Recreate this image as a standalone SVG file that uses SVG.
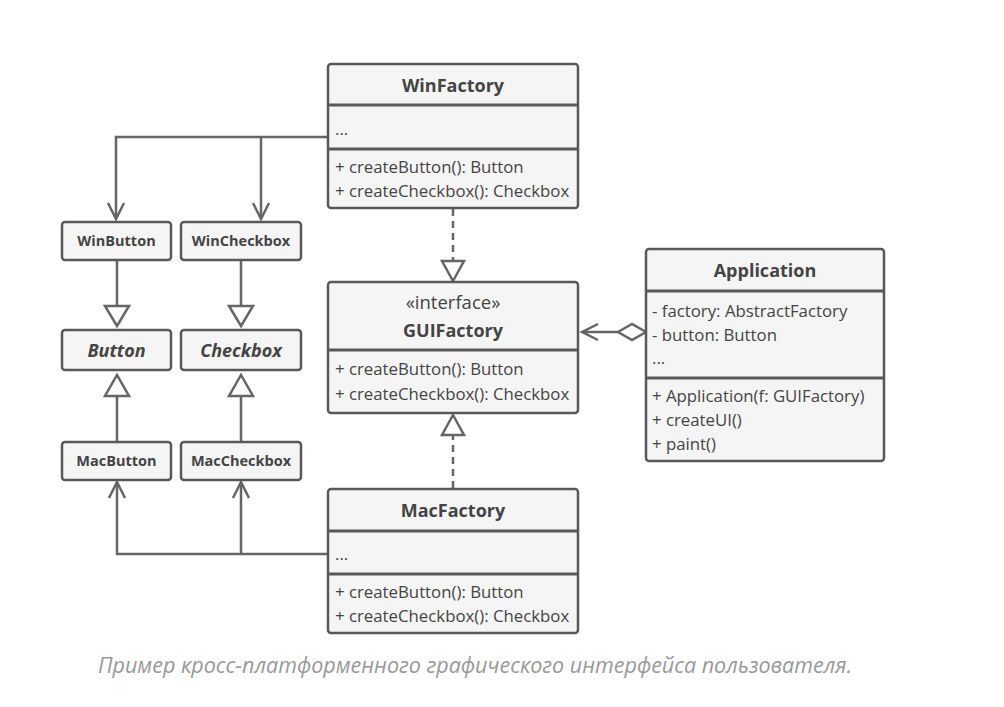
<svg xmlns="http://www.w3.org/2000/svg" width="1004" height="707" viewBox="0 0 1004 707">
<defs>
<style>
.box{fill:#f5f5f5;stroke:#595959;stroke-width:2.5}
.sep{stroke:#595959;stroke-width:3}
.ln{fill:none;stroke:#666;stroke-width:2.5}
.dash{fill:none;stroke:#666;stroke-width:2.5;stroke-dasharray:7,5}
.tri{fill:#fff;stroke:#666;stroke-width:2.5}
text{font-family:"Open Sans","Liberation Sans",sans-serif;fill:#444}
.t{font-size:16.8px}
.b{font-size:18px;font-weight:bold;text-anchor:middle}
.sb{font-size:14.5px;font-weight:bold;text-anchor:middle}
.si{font-size:18px;font-weight:bold;font-style:italic;text-anchor:middle}
.c{font-size:18.5px;text-anchor:middle}
.cap{font-size:21.5px;font-style:italic;fill:#999;text-anchor:middle}
</style>
</defs>
<rect width="1004" height="707" fill="#fff"/>
<g id="connectors">
<path class="ln" d="M328,137 H116 V219 M261,137 V219"/>
<path class="ln" d="M108,203 L116,219 L124,203 M253,203 L261,219 L269,203"/>
<path class="ln" d="M117,260 V306 M241,260 V306"/>
<polygon class="tri" points="105,306 129,306 117,326"/>
<polygon class="tri" points="229,306 253,306 241,326"/>
<path class="ln" d="M117,442 V396 M241,442 V396"/>
<polygon class="tri" points="105,396 129,396 117,375"/>
<polygon class="tri" points="229,396 253,396 241,375"/>
<path class="ln" d="M328,554 H117 V482 M241,554 V482"/>
<path class="ln" d="M109,498 L117,482 L125,498 M233,498 L241,482 L249,498"/>
<path class="dash" d="M453,209 V261"/>
<polygon class="tri" points="442,261 464,261 453,281"/>
<path class="dash" d="M453,488 V435"/>
<polygon class="tri" points="442,435 464,435 453,415"/>
<path class="ln" d="M618,332 H582 M598,324 L582,332 L598,340"/>
<polygon class="tri" points="618,332 632,324 646,332 632,340"/>
</g>
<g id="WinFactory">
<rect class="box" x="328" y="64" width="250" height="144" rx="3"/>
<line class="sep" x1="328" y1="105" x2="578" y2="105"/>
<line class="sep" x1="328" y1="149" x2="578" y2="149"/>
<text class="b" x="453" y="92">WinFactory</text>
<text class="t" x="335" y="135">...</text>
<text class="t" x="335" y="173">+ createButton(): Button</text>
<text class="t" x="335" y="197">+ createCheckbox(): Checkbox</text>
</g>
<g id="GUIFactory">
<rect class="box" x="328" y="282" width="250" height="131" rx="3"/>
<line class="sep" x1="328" y1="350" x2="578" y2="350"/>
<text class="c" x="453" y="309">«interface»</text>
<text class="b" x="453" y="337">GUIFactory</text>
<text class="t" x="335" y="375">+ createButton(): Button</text>
<text class="t" x="335" y="400">+ createCheckbox(): Checkbox</text>
</g>
<g id="MacFactory">
<rect class="box" x="328" y="489" width="250" height="144" rx="3"/>
<line class="sep" x1="328" y1="531" x2="578" y2="531"/>
<line class="sep" x1="328" y1="574" x2="578" y2="574"/>
<text class="b" x="453" y="517">MacFactory</text>
<text class="t" x="335" y="560">...</text>
<text class="t" x="335" y="598">+ createButton(): Button</text>
<text class="t" x="335" y="622">+ createCheckbox(): Checkbox</text>
</g>
<g id="Application">
<rect class="box" x="646" y="249" width="238" height="212" rx="3"/>
<line class="sep" x1="646" y1="291" x2="884" y2="291"/>
<line class="sep" x1="646" y1="378" x2="884" y2="378"/>
<text class="b" x="765" y="277">Application</text>
<text class="t" x="652" y="317">- factory: AbstractFactory</text>
<text class="t" x="652" y="341">- button: Button</text>
<text class="t" x="652" y="364">...</text>
<text class="t" x="652" y="402">+ Application(f: GUIFactory)</text>
<text class="t" x="652" y="426">+ createUI()</text>
<text class="t" x="652" y="450">+ paint()</text>
</g>
<g id="WinButton"><rect class="box" x="62" y="222" width="109" height="38" rx="3"/><text class="sb" x="116.5" y="246">WinButton</text></g>
<g id="WinCheckbox"><rect class="box" x="181" y="222" width="120" height="38" rx="3"/><text class="sb" x="241" y="246">WinCheckbox</text></g>
<g id="Button"><rect class="box" x="62" y="330" width="109" height="40" rx="3"/><text class="si" x="116.5" y="357">Button</text></g>
<g id="Checkbox"><rect class="box" x="181" y="330" width="120" height="40" rx="3"/><text class="si" x="241" y="357">Checkbox</text></g>
<g id="MacButton"><rect class="box" x="62" y="442" width="109" height="38" rx="3"/><text class="sb" x="116.5" y="466">MacButton</text></g>
<g id="MacCheckbox"><rect class="box" x="181" y="442" width="120" height="38" rx="3"/><text class="sb" x="241" y="466">MacCheckbox</text></g>
<text class="cap" x="475" y="673">Пример кросс-платформенного графического интерфейса пользователя.</text>
</svg>
